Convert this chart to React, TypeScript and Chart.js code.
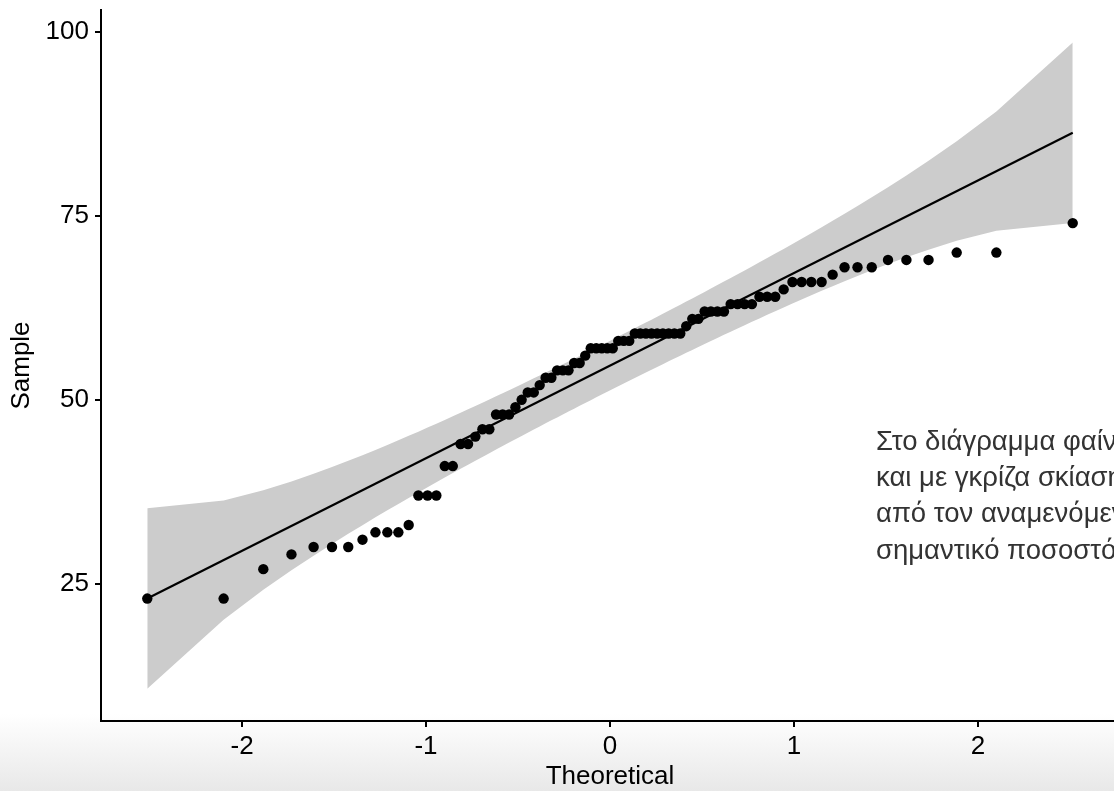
import React, { useEffect, useRef } from "react";
import { Chart, registerables } from "chart.js";

Chart.register(...registerables);

// Theoretical normal quantiles (x) for the 84 sample points
const theoretical = [
  -2.515, -2.1, -1.8843, -1.7313, -1.611, -1.511, -1.4227, -1.3452, -1.2748, -1.2101,
  -1.1503, -1.0942, -1.0415, -0.9916, -0.9438, -0.8982, -0.8544, -0.8122, -0.7714, -0.7318,
  -0.6935, -0.6558, -0.6193, -0.5835, -0.5484, -0.5141, -0.4803, -0.4472, -0.4143, -0.3821,
  -0.35, -0.3186, -0.2873, -0.2564, -0.2256, -0.195, -0.1649, -0.1347, -0.1046, -0.0746,
  -0.0448, -0.0149, 0.0149, 0.0448, 0.0746, 0.1046, 0.1347, 0.1649, 0.195, 0.2256,
  0.2564, 0.2873, 0.3186, 0.35, 0.3821, 0.4143, 0.4472, 0.4803, 0.5141, 0.5484,
  0.5835, 0.6193, 0.6558, 0.6935, 0.7318, 0.7714, 0.8122, 0.8544, 0.8982, 0.9438,
  0.9916, 1.0415, 1.0942, 1.1503, 1.2101, 1.2748, 1.3452, 1.4227, 1.511, 1.611,
  1.7313, 1.8843, 2.1, 2.515,
];

// Sample values (y)
const sample = [
  23, 23, 27, 29, 30, 30, 30, 31, 32, 32,
  32, 33, 37, 37, 37, 41, 41, 44, 44, 45,
  46, 46, 48, 48, 48, 49, 50, 51, 51, 52,
  53, 53, 54, 54, 54, 55, 55, 56, 57, 57,
  57, 57, 57, 58, 58, 58, 59, 59, 59, 59,
  59, 59, 59, 59, 59, 60, 61, 61, 62, 62,
  62, 62, 63, 63, 63, 63, 64, 64, 64, 65,
  66, 66, 66, 66, 67, 68, 68, 68, 69, 69,
  69, 70, 70, 74,
];

// Half width of the grey confidence band at each theoretical quantile
const bandHalfWidth = [
  12.256, 8.101, 6.762, 6.031, 5.558, 5.224, 4.957, 4.752, 4.583, 4.441,
  4.322, 4.218, 4.128, 4.049, 3.978, 3.915, 3.859, 3.808, 3.763, 3.721,
  3.683, 3.648, 3.617, 3.588, 3.562, 3.536, 3.515, 3.495, 3.478, 3.462,
  3.447, 3.434, 3.423, 3.412, 3.403, 3.395, 3.388, 3.383, 3.378, 3.375,
  3.373, 3.371, 3.371, 3.373, 3.375, 3.378, 3.383, 3.388, 3.395, 3.403,
  3.412, 3.423, 3.434, 3.447, 3.462, 3.478, 3.495, 3.515, 3.536, 3.562,
  3.588, 3.617, 3.648, 3.683, 3.721, 3.763, 3.808, 3.859, 3.915, 3.978,
  4.049, 4.128, 4.218, 4.322, 4.441, 4.583, 4.752, 4.957, 5.224, 5.558,
  6.031, 6.762, 8.101, 12.256,
];

// Reference line (intercept, slope)
const lineIntercept = 54.65;
const lineSlope = 12.58;

const xTicks = [-2, -1, 0, 1, 2];
const yTicks = [25, 50, 75, 100];
const xRange = [-2.7665, 2.7665];
const yRange = [6.37, 102.95];

const xTitle = "Theoretical";
const yTitle = "Sample";

const noteLines = [
  "Στο διάγραμμα φαίνονται τα σημεία του δείγματος",
  "και με γκρίζα σκίαση η ζώνη εμπιστοσύνης. Οι αποκλίσεις",
  "από τον αναμενόμενο τύπο εμφανίζονται σε",
  "σημαντικό ποσοστό",
];

const FONT = 'Arial, "Liberation Sans", Helvetica, sans-serif';

export default function App() {
  const canvasRef = useRef<HTMLCanvasElement | null>(null);

  useEffect(() => {
    const canvas = canvasRef.current;
    if (!canvas) return;
    const lineAt = (q: number) => lineIntercept + lineSlope * q;
    const upper = theoretical.map((q, i) => ({ x: q, y: lineAt(q) + bandHalfWidth[i] }));
    const lower = theoretical.map((q, i) => ({ x: q, y: lineAt(q) - bandHalfWidth[i] }));
    const first = theoretical[0];
    const last = theoretical[theoretical.length - 1];
    const refLine = [
      { x: first, y: lineAt(first) },
      { x: last, y: lineAt(last) },
    ];
    const points = theoretical.map((q, i) => ({ x: q, y: sample[i] }));

    const chart = new Chart(canvas, {
      type: "line",
      data: {
        datasets: [
          {
            data: upper,
            borderWidth: 0,
            borderColor: "rgba(0,0,0,0)",
            pointRadius: 0,
            fill: "+1",
            backgroundColor: "#cccccc",
            tension: 0,
            order: 3,
          },
          {
            data: lower,
            borderWidth: 0,
            borderColor: "rgba(0,0,0,0)",
            pointRadius: 0,
            fill: false,
            tension: 0,
            order: 3,
          },
          {
            data: refLine,
            borderColor: "#000000",
            borderWidth: 2.2,
            pointRadius: 0,
            fill: false,
            order: 1,
          },
          {
            data: points,
            showLine: false,
            pointRadius: 5.2,
            pointBorderWidth: 0,
            pointBackgroundColor: "#000000",
            pointBorderColor: "#000000",
            order: 0,
          },
        ],
      },
      options: {
        animation: false,
        responsive: false,
        maintainAspectRatio: false,
        devicePixelRatio: 1,
        events: [],
        layout: { padding: { top: 10, right: 11, bottom: 0, left: 0 } },
        plugins: {
          legend: { display: false },
          tooltip: { enabled: false },
        },
        scales: {
          x: {
            type: "linear",
            min: xRange[0],
            max: xRange[1],
            afterBuildTicks: (s: any) => {
              s.ticks = xTicks.map((v) => ({ value: v }));
            },
            afterFit: (s: any) => {
              s.height = 70;
              s.paddingLeft = 0;
              s.paddingRight = 0;
            },
            ticks: {
              color: "#000000",
              font: { family: FONT, size: 26 },
              padding: 4,
              maxRotation: 0,
              autoSkip: false,
            },
            grid: {
              display: true,
              drawOnChartArea: false,
              drawTicks: true,
              tickLength: 6,
              color: "#000000",
              lineWidth: 2,
            },
            border: { display: true, color: "#000000", width: 2 },
            title: {
              display: true,
              text: xTitle,
              color: "#000000",
              font: { family: FONT, size: 26, lineHeight: 1 },
              padding: { top: 0, bottom: 1 },
            },
          },
          y: {
            type: "linear",
            min: yRange[0],
            max: yRange[1],
            afterBuildTicks: (s: any) => {
              s.ticks = yTicks.map((v) => ({ value: v }));
            },
            afterFit: (s: any) => {
              s.width = 101;
              s.paddingTop = 0;
              s.paddingBottom = 0;
            },
            ticks: {
              color: "#000000",
              font: { family: FONT, size: 26 },
              padding: 6,
              autoSkip: false,
            },
            grid: {
              display: true,
              drawOnChartArea: false,
              drawTicks: true,
              tickLength: 6,
              color: "#000000",
              lineWidth: 2,
            },
            border: { display: true, color: "#000000", width: 2 },
            title: {
              display: true,
              text: yTitle,
              color: "#000000",
              font: { family: FONT, size: 26, lineHeight: 1 },
              padding: { top: 9, bottom: 0 },
            },
          },
        },
      },
    } as any);

    return () => chart.destroy();
  }, []);

  return (
    <div style={{ position: "relative", width: 1130, height: 791, overflow: "hidden" }}>
      <style>{"html,body{margin:0;padding:0;overflow:hidden;background:#ffffff;}"}</style>
      <div
        style={{
          position: "absolute",
          left: 0,
          top: 714,
          width: 1130,
          height: 77,
          background: "linear-gradient(to bottom, #ffffff 0%, #e8e8e8 100%)",
        }}
      />
      <canvas
        ref={canvasRef}
        width={1130}
        height={791}
        style={{ position: "absolute", left: 0, top: 0, width: 1130, height: 791 }}
      />
      <div
        style={{
          position: "absolute",
          left: 876,
          top: 423,
          width: 700,
          fontFamily: FONT,
          fontSize: 27.5,
          lineHeight: "36.2px",
          color: "#333333",
          whiteSpace: "nowrap",
        }}
      >
        {noteLines.map((t, i) => (
          <div key={i}>{t}</div>
        ))}
      </div>
    </div>
  );
}
